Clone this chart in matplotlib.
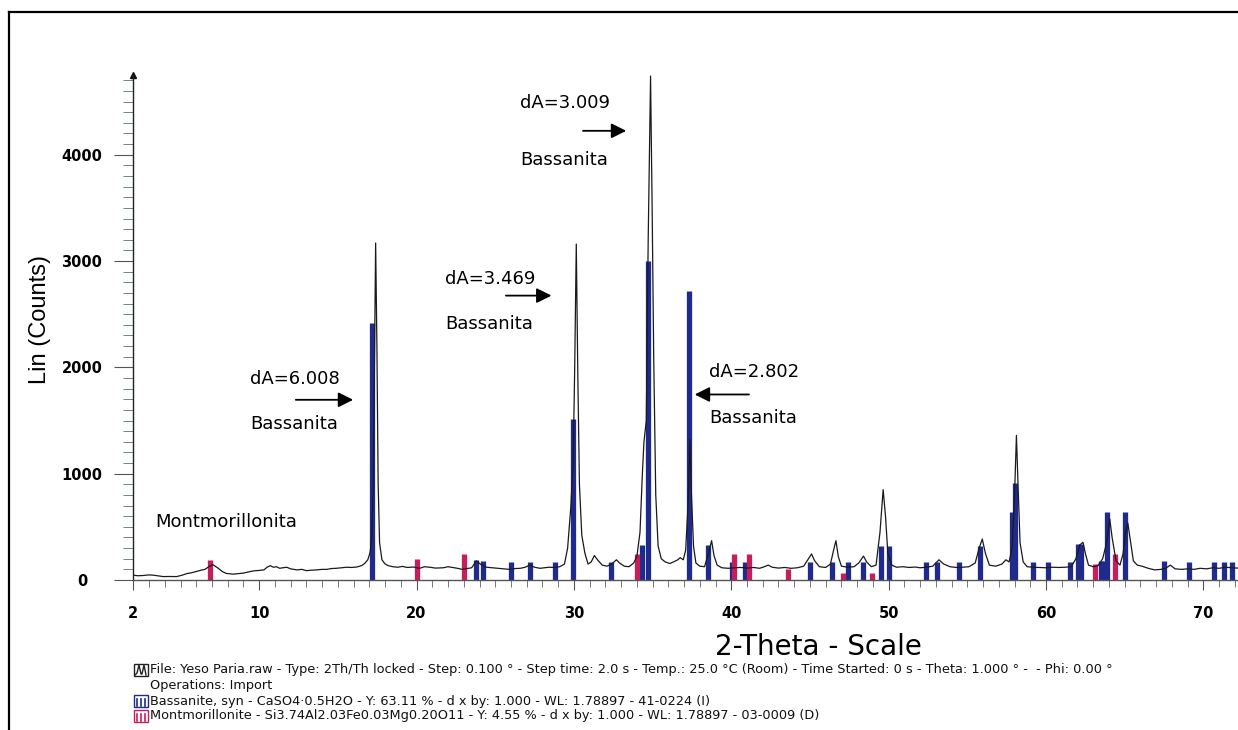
import matplotlib
matplotlib.use("Agg")
import matplotlib.pyplot as plt
from matplotlib.ticker import MultipleLocator, FixedLocator
from matplotlib.patches import Rectangle
from matplotlib.lines import Line2D

two_theta = [2.0, 2.3, 2.6, 3.0, 3.3, 3.6, 3.9, 4.3, 4.75, 5.1, 5.4, 5.7, 6.0, 6.3, 6.55, 6.8, 7.05, 7.25,
             7.4, 7.65, 7.9, 8.35, 8.7, 9.0, 9.3, 9.6, 10.0, 10.3, 10.5, 10.7, 10.9, 11.1, 11.3, 11.5, 11.75,
             12.0, 12.4, 12.7, 13.0, 13.3, 13.65, 14.0, 14.3, 14.6, 14.9, 15.2, 15.55, 15.9, 16.2, 16.5, 16.7,
             16.9, 17.05, 17.15, 17.25, 17.32, 17.4, 17.48, 17.56, 17.65, 17.8, 18.0, 18.2, 18.5, 18.8, 19.1,
             19.4, 19.8, 20.2, 20.5, 20.85, 21.2, 21.7, 22.0, 22.3, 22.6, 22.9, 23.2, 23.5, 23.8, 24.05, 24.3,
             24.45, 24.8, 25.1, 25.5, 25.9, 26.3, 26.6, 26.9, 27.2, 27.5, 27.85, 28.1, 28.4, 28.8, 29.1, 29.4,
             29.6, 29.8, 29.95, 30.05, 30.15, 30.25, 30.35, 30.5, 30.7, 30.9, 31.1, 31.3, 31.5, 31.8, 32.1,
             32.4, 32.7, 32.9, 33.2, 33.5, 33.8, 34.0, 34.2, 34.35, 34.45, 34.6, 34.72, 34.87, 34.97, 35.07,
             35.2, 35.35, 35.55, 35.8, 36.1, 36.4, 36.6, 36.75, 36.95, 37.1, 37.25, 37.37, 37.47, 37.6, 37.75,
             38.0, 38.3, 38.55, 38.75, 38.9, 39.1, 39.4, 39.8, 40.2, 40.6, 41.0, 41.4, 41.8, 42.1, 42.35,
             42.6, 43.0, 43.4, 43.8, 44.2, 44.6, 44.9, 45.1, 45.3, 45.6, 46.0, 46.3, 46.5, 46.65, 46.8, 47.0,
             47.4, 47.8, 48.1, 48.4, 48.6, 48.9, 49.2, 49.45, 49.65, 49.8, 49.95, 50.2, 50.5, 50.9, 51.3,
             51.7, 52.0, 52.4, 52.8, 53.2, 53.5, 53.9, 54.3, 54.7, 55.1, 55.5, 55.75, 55.95, 56.15, 56.4,
             56.8, 57.2, 57.45, 57.65, 57.85, 58.0, 58.12, 58.22, 58.35, 58.55, 58.8, 59.2, 59.6, 60.0, 60.4,
             60.8, 61.2, 61.6, 61.9, 62.15, 62.35, 62.5, 62.7, 63.0, 63.3, 63.6, 63.85, 64.05, 64.2, 64.45,
             64.7, 64.9, 65.05, 65.2, 65.35, 65.55, 65.8, 66.1, 66.5, 66.9, 67.3, 67.6, 67.9, 68.2, 68.6,
             69.0, 69.4, 69.8, 70.2, 70.6, 71.0, 71.4, 71.8, 72.2]
counts = [45, 40, 42, 48, 45, 38, 32, 33, 32, 45, 60, 68, 80, 92, 100, 125, 145, 125,
          110, 80, 62, 55, 60, 65, 75, 85, 90, 95, 120, 135, 120, 125, 110, 115, 120,
          105, 95, 100, 88, 92, 95, 100, 100, 108, 110, 115, 120, 118, 122, 135, 155,
          190, 260, 400, 900, 2000, 3170, 2200, 900, 350, 190, 150, 135, 125, 120, 128,
          118, 122, 110, 125, 120, 112, 115, 125, 118, 110, 100, 108, 115, 180, 150, 130,
          120, 115, 110, 105, 100, 108, 110, 120, 140, 120, 110, 115, 120, 118, 125, 150,
          300, 680, 1100, 2000, 3160, 1900, 900, 420, 250, 150, 170, 230, 190, 140, 130,
          150, 190, 160, 130, 125, 160, 220, 450, 1000, 1300, 1500, 3200, 4740, 3500, 2100,
          800, 320, 200, 170, 155, 175, 190, 210, 190, 280, 700, 1320, 800, 320, 160,
          130, 125, 250, 370, 230, 140, 115, 110, 115, 118, 112, 118, 110, 125, 140,
          120, 112, 118, 110, 115, 130, 200, 245, 180, 125, 118, 150, 280, 370, 220, 130,
          120, 125, 160, 225, 170, 125, 140, 450, 850, 600, 250, 140, 120, 125, 118,
          122, 115, 120, 130, 190, 150, 125, 118, 120, 125, 160, 300, 385, 250, 140,
          130, 150, 190, 170, 300, 800, 1360, 900, 350, 170, 125, 120, 118, 115, 120,
          118, 120, 125, 200, 330, 355, 250, 140, 125, 135, 200, 350, 575, 400, 180,
          140, 250, 450, 535, 380, 180, 140, 130, 110, 95, 100, 110, 140, 105, 100,
          105, 100, 110, 105, 115, 110, 120, 115, 112]

# reference sticks
bass_pos = [17.2, 23.75, 24.25, 26.0, 27.2, 28.8, 29.97, 32.35, 34.3, 34.68, 37.3, 38.55, 40.05,
            40.85, 45.0, 46.4, 47.4, 48.35, 49.5, 50.05, 52.35, 53.05, 54.5, 55.8, 57.85, 58.05,
            59.2, 60.1, 61.5, 62.05, 62.25, 63.5, 63.68, 63.88, 65.05, 67.5, 69.1, 70.7, 71.3, 71.85]
bass_h = [2420, 190, 175, 172, 172, 172, 1510, 172, 330, 3000, 2720, 330, 172,
          172, 172, 172, 172, 172, 320, 320, 172, 172, 172, 320, 636, 917,
          172, 172, 172, 335, 335, 180, 180, 636, 636, 180, 172, 172, 172, 172]
mont_pos = [6.87, 20.05, 23.02, 33.98, 40.15, 41.15, 43.62, 47.12, 48.96, 63.1, 64.4]
mont_h = [190, 195, 245, 240, 240, 240, 100, 65, 65, 155, 244]

x_major = [2, 10, 20, 30, 40, 50, 60, 70]

BLUE = "#1f2b8c"
RED = "#c81d5c"
W, H = 1238, 730


def fpx(x, y):
    return x / W, 1 - y / H


fig = plt.figure(figsize=(W / 100, H / 100), dpi=100)
ax = fig.add_axes([133.3 / W, 1 - 580 / H, (W - 133.3) / W, 505 / H])

ax.vlines(bass_pos, 0, bass_h, color=BLUE, lw=3.8, zorder=2)
ax.vlines(mont_pos, 0, mont_h, color=RED, lw=3.8, zorder=2)
ax.plot(two_theta, counts, color="#1a1a1a", lw=0.9, zorder=3)

ax.set_xlim(2, 72.2)
ax.set_ylim(0, 4750)
for s in ["top", "right"]:
    ax.spines[s].set_visible(False)
ax.spines["left"].set_color("#222222")
ax.spines["bottom"].set_color("#555555")
ax.spines["left"].set_linewidth(1.0)
ax.spines["bottom"].set_linewidth(1.0)

ax.xaxis.set_major_locator(FixedLocator(x_major))
ax.xaxis.set_minor_locator(MultipleLocator(1))
ax.yaxis.set_major_locator(MultipleLocator(1000))
ax.yaxis.set_minor_locator(MultipleLocator(100))
ax.tick_params(axis="x", which="major", length=7.5, width=0.8, color="#555555", pad=11)
ax.tick_params(axis="x", which="minor", length=5, width=0.7, color="#777777")
ax.tick_params(axis="y", which="major", length=13.5, width=0.8, color="#555555", pad=23.5)
ax.tick_params(axis="y", which="minor", length=7.5, width=0.7, color="#6a8a7a")
for lab in ax.get_xticklabels() + ax.get_yticklabels():
    lab.set_fontweight("bold")
    lab.set_fontsize(10.5)
for lab in ax.get_yticklabels():
    lab.set_horizontalalignment("center")

# arrow on top of the y axis
ax.plot([0], [1], marker="^", color="#111111", markersize=5, transform=ax.transAxes, clip_on=False)

fig.text(40 / W, 1 - 320 / H, "Lin (Counts)", rotation=90, ha="center", va="center",
         fontsize=17, family=["Liberation Sans", "DejaVu Sans"])
fig.text(818 / W, 1 - 647 / H, "2-Theta - Scale", ha="center", va="center", fontsize=20)

# annotations
txt = dict(fontsize=13, va="center", ha="left")
arr = dict(arrowstyle="-|>,head_length=0.9,head_width=0.45", color="black", lw=1.3)
ax.text(9.41, 1890, "dA=6.008", **txt)
ax.text(9.41, 1465, "Bassanita", **txt)
ax.annotate("", xy=(16.15, 1695), xytext=(12.15, 1695), arrowprops=arr)
ax.text(21.8, 2830, "dA=3.469", **txt)
ax.text(21.8, 2405, "Bassanita", **txt)
ax.annotate("", xy=(28.75, 2675), xytext=(25.5, 2675), arrowprops=arr)
ax.text(26.57, 4490, "dA=3.009", **txt)
ax.text(26.57, 3955, "Bassanita", **txt)
ax.annotate("", xy=(33.5, 4225), xytext=(30.4, 4225), arrowprops=arr)
ax.text(38.57, 1960, "dA=2.802", **txt)
ax.text(38.57, 1520, "Bassanita", **txt)
ax.annotate("", xy=(37.5, 1745), xytext=(41.3, 1745), arrowprops=arr)
ax.text(3.38, 545, "Montmorillonita", **txt)

# legend block under the chart
leg_lines = [
    (670, "File: Yeso Paria.raw - Type: 2Th/Th locked - Step: 0.100 \u00b0 - Step time: 2.0 s - Temp.: 25.0 \u00b0C (Room) - Time Started: 0 s - Theta: 1.000 \u00b0 -  - Phi: 0.00 \u00b0"),
    (685, "Operations: Import"),
    (701, "Bassanite, syn - CaSO4\u00b70.5H2O - Y: 63.11 % - d x by: 1.000 - WL: 1.78897 - 41-0224 (I)"),
    (716, "Montmorillonite - Si3.74Al2.03Fe0.03Mg0.20O11 - Y: 4.55 % - d x by: 1.000 - WL: 1.78897 - 03-0009 (D)"),
]
for y, s in leg_lines:
    fig.text(150 / W, 1 - y / H, s, fontsize=9.3, va="center", ha="left", color="#111111")

# small icons
icon_w, icon_h = 14 / W, 12 / H
for y, col in [(670, "#222222"), (701, BLUE), (716, RED)]:
    x0, y0 = fpx(134, y + 6)
    fig.add_artist(Rectangle((x0, y0), icon_w, icon_h, fill=False, ec=col, lw=1.0,
                             transform=fig.transFigure))
xs = [135, 137, 139, 141, 142, 144, 146]
ys = [675, 673, 665, 674, 674, 665, 675]
fig.add_artist(Line2D([fpx(a, 0)[0] for a in xs], [fpx(0, b)[1] for b in ys],
                      color="#222222", lw=1.0, transform=fig.transFigure))
for y, col in [(701, BLUE), (716, RED)]:
    for xi in [137, 141, 145]:
        fig.add_artist(Line2D([fpx(xi, 0)[0]] * 2, [fpx(0, y + 5)[1], fpx(0, y - 2)[1]],
                              color=col, lw=1.2, transform=fig.transFigure))

# outer frame
fig.add_artist(Line2D([fpx(9, 0)[0], 1.0], [fpx(0, 12)[1]] * 2, color="black", lw=1.6,
                      transform=fig.transFigure))
fig.add_artist(Line2D([fpx(9, 0)[0]] * 2, [fpx(0, 12)[1], 0.0], color="black", lw=1.6,
                      transform=fig.transFigure))

fig.savefig("out.png", dpi=100)
